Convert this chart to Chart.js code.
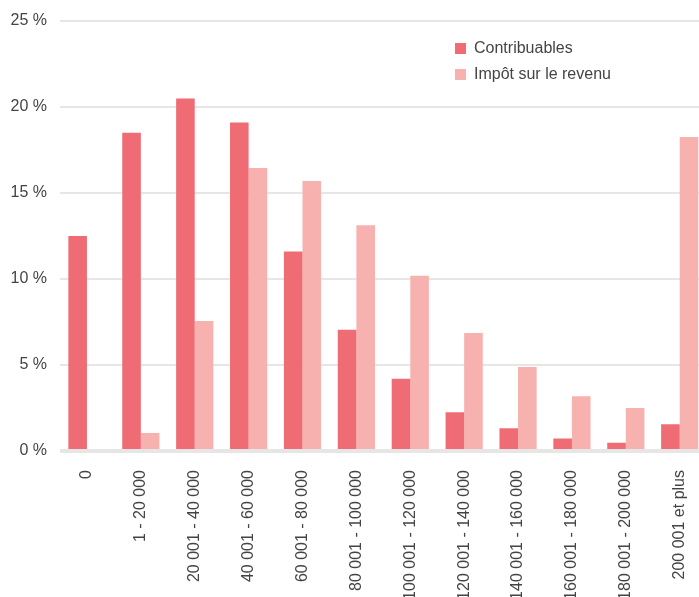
<!DOCTYPE html>
<html lang="fr">
<head>
  <meta charset="UTF-8">
  <title>Contribuables et impôt sur le revenu</title>
  <script src="https://cdn.jsdelivr.net/npm/chart.js"></script>
  <style>
    html, body { margin: 0; padding: 0; background: #fff; overflow: hidden; }
    #wrap { position: relative; width: 710px; height: 597px; }
    #legend { position: absolute; left: 455px; top: 35px; font-family: "Liberation Sans", Arial, sans-serif; font-size: 16px; color: #444; }
    #legend div { display: flex; align-items: center; height: 26px; }
    #legend span.box { width: 11px; height: 11px; margin-right: 8px; display: inline-block; }
  </style>
</head>
<body>
  <div id="wrap">
    <canvas id="chart" width="710" height="597"></canvas>
    <div id="legend"></div>
  </div>

  <script>
    // tranches de revenu
    const categories = ["0", "1 - 20 000", "20 001 - 40 000", "40 001 - 60 000", "60 001 - 80 000",
      "80 001 - 100 000", "100 001 - 120 000", "120 001 - 140 000", "140 001 - 160 000",
      "160 001 - 180 000", "180 001 - 200 000", "200 001 et plus"];
    const contribuables = [12.5, 18.5, 20.5, 19.1, 11.6, 7.05, 4.2, 2.25, 1.32, 0.72, 0.48, 1.55];
    const impot = [0, 1.05, 7.56, 16.45, 15.7, 13.12, 10.19, 6.86, 4.88, 3.18, 2.5, 18.26];
    const yTicks = [0, 5, 10, 15, 20, 25];

    const RED = "#ef6c75";
    const PINK = "#f7b1ae";

    const series = [
      { label: "Contribuables", data: contribuables, color: RED },
      { label: "Impôt sur le revenu", data: impot, color: PINK }
    ];

    // légende en HTML
    const legend = document.getElementById("legend");
    series.forEach(s => {
      const row = document.createElement("div");
      row.innerHTML = `<span class="box" style="background:${s.color}"></span>${s.label}`;
      legend.appendChild(row);
    });

    const font = { family: "'Liberation Sans', Arial, sans-serif", size: 16 };

    new Chart(document.getElementById("chart"), {
      type: "bar",
      data: {
        labels: categories,
        datasets: series.map(s => ({
          label: s.label,
          data: s.data,
          backgroundColor: s.color,
          borderWidth: 0,
          categoryPercentage: 0.69,
          barPercentage: 1.0
        }))
      },
      options: {
        responsive: false,
        animation: false,
        layout: { padding: { top: 21, right: 2, left: 0, bottom: 0 } },
        plugins: {
          legend: { display: false },
          tooltip: { enabled: false }
        },
        scales: {
          x: {
            grid: { display: false },
            border: { display: false },
            ticks: {
              color: "#444",
              font: font,
              minRotation: 90,
              maxRotation: 90,
              padding: 11,
              autoSkip: false
            },
            afterFit: scale => { scale.height = 146; }
          },
          y: {
            min: 0,
            max: 25,
            afterBuildTicks: scale => { scale.ticks = yTicks.map(v => ({ value: v })); },
            grid: {
              color: "#e6e6e6",
              lineWidth: ctx => (ctx.tick && ctx.tick.value === 0 ? 4 : 2),
              drawTicks: false
            },
            border: { display: false },
            ticks: {
              color: "#444",
              font: font,
              padding: 13,
              callback: v => v + " %"
            },
            afterFit: scale => {
              scale.width = 60;
              scale.paddingTop = 0;
              scale.paddingBottom = 0;
            }
          }
        }
      }
    });
  </script>
</body>
</html>
